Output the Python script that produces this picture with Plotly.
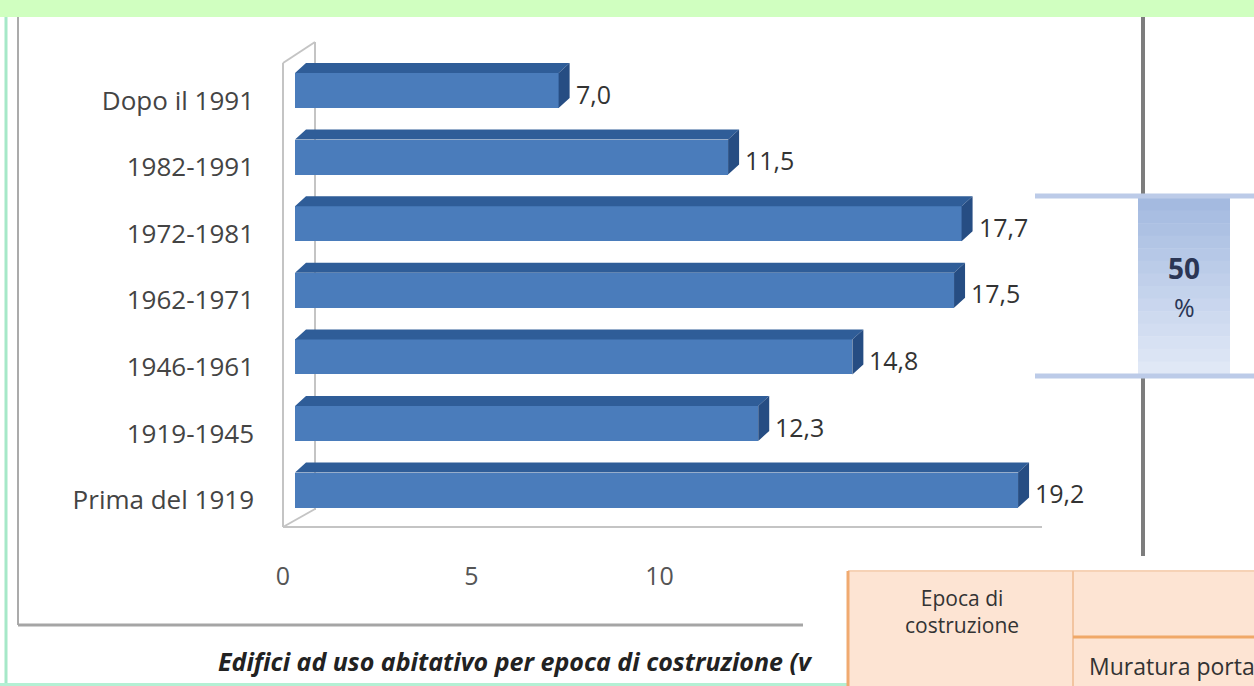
import plotly.graph_objects as go

# ---------------- data ----------------
categories = ["Dopo il 1991", "1982-1991", "1972-1981", "1962-1971",
              "1946-1961", "1919-1945", "Prima del 1919"]
values = [7.0, 11.5, 17.7, 17.5, 14.8, 12.3, 19.2]
tick_values = [0, 5, 10]
caption = "Edifici ad uso abitativo per epoca di costruzione (v"
bracket_text = ["50", "%"]
table_header = ["Epoca di", "costruzione"]
table_sub = "Muratura portante"

# ---------------- geometry ----------------
W, H = 1254, 686
L, R, T, B = 295, 0, 20, 545
PW, PH = W - L - R, B - T
PX_PER_X = 37.66
PX_PER_Y = 66.6
Y0_PIX = 90.5  # pixel of first category centre

x_max = PW / PX_PER_X
y_top = (T - Y0_PIX) / PX_PER_Y
y_bot = (B - Y0_PIX) / PX_PER_Y

def px(xp):
    return (xp - L) / PW

def py(yp):
    return (B - yp) / PH

idx = list(range(len(categories)))
bw = 0.525
dx = 11 / PX_PER_X
dy = 10 / PX_PER_Y

FRONT = "#4a7cbb"
TOP = "#2f5d98"
SIDE = "#264d83"

fig = go.Figure()

tx, ty = [], []
sx, sy = [], []
for i, v in zip(idx, values):
    y1 = i - bw / 2
    y2 = i + bw / 2
    tx += [0, v, v + dx, dx, 0, None]
    ty += [y1, y1, y1 - dy, y1 - dy, y1, None]
    sx += [v, v + dx, v + dx, v, v, None]
    sy += [y1, y1 - dy, y2 - dy, y2, y1, None]

fig.add_trace(go.Scatter(x=tx, y=ty, fill="toself", fillcolor=TOP, mode="lines",
                         line=dict(width=0, color=TOP), hoverinfo="skip", showlegend=False))
fig.add_trace(go.Scatter(x=sx, y=sy, fill="toself", fillcolor=SIDE, mode="lines",
                         line=dict(width=0, color=SIDE), hoverinfo="skip", showlegend=False))
fig.add_trace(go.Bar(x=values, y=idx, orientation="h", width=bw,
                     marker=dict(color=FRONT, line=dict(width=0)), showlegend=False))

# data labels
for i, v in zip(idx, values):
    fig.add_annotation(x=v + dx, y=i, xref="x", yref="y", text=f"{v:.1f}".replace(".", ","),
                       showarrow=False, xanchor="left", yanchor="middle", xshift=4, yshift=-3,
                       font=dict(family="Open Sans", size=25, color="#333333"))

shapes = []

def line(x0, y0, x1, y1, color, width, layer="above"):
    shapes.append(dict(type="line", xref="paper", yref="paper",
                       x0=px(x0), y0=py(y0), x1=px(x1), y1=py(y1),
                       line=dict(color=color, width=width), layer=layer))

def rect(x0, y0, x1, y1, fill, layer="above"):
    shapes.append(dict(type="rect", xref="paper", yref="paper",
                       x0=px(x0), y0=py(y0), x1=px(x1), y1=py(y1),
                       fillcolor=fill, line=dict(width=0), layer=layer))

# 3D walls
WALL = "#c4c4c4"
line(315, 42, 315, 510, WALL, 2, "below")
line(283, 63, 283, 527, WALL, 2, "below")
line(283, 63, 315, 42, WALL, 2, "below")
line(283, 527, 315, 509, WALL, 2, "below")
line(283, 527, 1042, 527, WALL, 2, "below")

# document frame / borders
rect(0, 0, W, 17, "#d0ffc0")
line(6, 17, 6, H, "#a6e8c8", 3)
line(0, 684.5, W, 684.5, "#b4f0d4", 3)
line(18, 17, 18, 625, "#ababab", 2)
line(18, 625, 803, 625, "#a5a5a5", 3)

# right bracket
line(1143, 17, 1143, 196, "#7d7d7d", 4)
line(1143, 376, 1143, 556, "#7d7d7d", 4)
n_strip = 14
top_c = (0xa4, 0xba, 0xe0)
bot_c = (0xe0, 0xe8, 0xf6)
for k in range(n_strip):
    f = k / (n_strip - 1)
    c = tuple(int(round(top_c[j] + (bot_c[j] - top_c[j]) * f)) for j in range(3))
    y0 = 198 + (374 - 198) * k / n_strip
    y1 = 198 + (374 - 198) * (k + 1) / n_strip
    rect(1138, y0, 1230, y1 + 0.5, "rgb(%d,%d,%d)" % c)
line(1035, 196, W, 196, "#bccbe8", 5)
line(1035, 376, W, 376, "#bccbe8", 5)

# table fragment
rect(848, 571, W, H, "#fde4d3")
line(848, 571, W, 571, "#f6d2b6", 2)
line(848, 571, 848, H, "#f0aa70", 3)
line(1073, 571, 1073, H, "#f2c4a0", 2)
line(1073, 637, W, 637, "#f0a868", 3)

fig.update_layout(shapes=shapes)

def note(xp, yp, text, size, color="#333333", xanchor="center"):
    fig.add_annotation(x=px(xp), y=py(yp), xref="paper", yref="paper", text=text,
                       showarrow=False, xanchor=xanchor, yanchor="middle",
                       font=dict(family="Open Sans", size=size, color=color))

note(1184, 268, "<b>" + bracket_text[0] + "</b>", 28, "#2b3655")
note(1184, 307, bracket_text[1], 25, "#2b3655")
note(962, 611, "<br>".join(table_header), 21)
note(1087, 666, table_sub, 23, xanchor="left")
note(216, 661, "<b><i>" + caption + "</i></b>", 25, "#222222", xanchor="left")

fig.update_xaxes(range=[0, x_max], tickvals=tick_values, ticktext=[str(t) for t in tick_values],
                 showgrid=False, zeroline=False, showline=False, ticks="",
                 tickfont=dict(family="Open Sans", size=25, color="#555555"),
                 ticklabelstandoff=14, ticklabelshift=-12)
fig.update_yaxes(range=[y_bot, y_top], tickvals=idx, ticktext=categories,
                 showgrid=False, zeroline=False, showline=False, ticks="",
                 tickfont=dict(family="Open Sans", size=26, color="#444444"),
                 ticklabelstandoff=40, ticklabelshift=-10)

fig.update_layout(width=W, height=H, margin=dict(l=L, r=R, t=T, b=H - B),
                  paper_bgcolor="white", plot_bgcolor="white", bargap=0,
                  showlegend=False)

fig.write_html("out.html", config={"displayModeBar": False},
               post_script="document.body.style.margin='0';")
